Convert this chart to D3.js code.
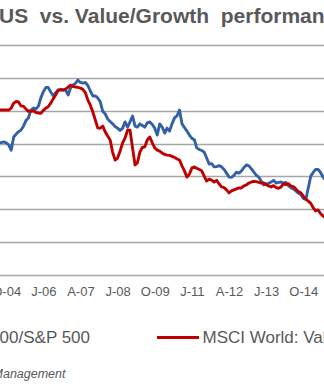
<!DOCTYPE html>
<html><head><meta charset="utf-8">
<script src="https://cdn.jsdelivr.net/npm/d3@7"></script>
<style>html,body{margin:0;padding:0;background:#fff;overflow:hidden}</style>
</head><body><svg id="c" width="324" height="384"></svg>
<script>
// ---- data (monthly, first point = Jul 2004) ----
const startMonth = new Date(2004, 6, 1);
const seriesNames = ["Stoxx 600/S&P 500", "MSCI World: Value/Growth"];
const regionRatio = [100.3,100.3,100.5,100.2,99.6,98.0,102.0,102.9,103.6,104.1,105.3,107.0,107.8,110.2,110.8,110.5,111.4,113.9,115.8,117.1,117.1,115.7,114.6,115.5,116.3,116.5,116.3,116.3,114.8,116.9,117.8,118.4,119.3,118.6,118.4,118.6,117.7,116.0,114.5,114.5,113.9,112.7,109.8,109.0,107.5,106.7,106.0,105.2,104.7,104.0,104.7,106.6,105.0,106.6,108.4,105.3,105.0,106.0,105.5,105.0,106.3,106.6,105.8,104.7,102.6,106.0,105.0,103.2,104.7,103.8,106.0,107.8,108.4,110.2,106.0,104.9,103.8,102.6,101.6,101.1,98.7,98.2,97.9,97.4,95.6,93.8,93.9,92.9,93.0,93.3,92.9,92.1,91.0,89.8,89.7,90.3,91.3,91.0,91.7,92.7,93.5,93.2,92.3,91.3,90.4,89.8,88.6,87.4,87.8,87.9,88.3,88.8,88.0,88.2,88.3,88.0,88.2,87.2,86.6,86.2,85.6,84.9,84.5,83.3,83.0,86.5,90.1,91.3,92.1,92.1,91.2,89.8,88.9];
const valueGrowth = [110.2,110.2,110.2,110.2,110.2,110.8,112.3,112.8,112.7,111.4,111.4,110.5,109.8,109.9,109.9,109.5,109.3,109.2,110.1,110.8,111.2,112.3,113.6,114.8,116.2,116.3,116.3,116.6,117.2,117.8,117.4,117.2,117.1,116.9,116.5,115.5,113.3,111.7,109.6,107.2,104.7,104.7,105.3,103.5,102.3,101.1,97.4,95.0,95.6,97.7,100.2,101.7,104.1,104.1,98.7,93.5,94.1,97.4,98.8,99.0,101.1,102.0,100.2,98.7,98.0,97.7,97.1,96.7,96.5,96.4,96.1,95.8,95.3,95.0,93.2,91.7,89.8,90.7,92.6,92.9,92.5,92.1,91.7,90.1,88.6,89.2,88.9,88.3,88.8,87.7,86.8,86.6,85.9,85.0,85.6,85.9,86.2,86.5,86.5,87.1,87.4,88.0,88.3,88.5,88.4,88.2,88.0,88.0,87.5,87.1,86.8,87.2,86.6,86.4,86.8,87.8,87.5,87.8,87.1,86.9,86.2,85.4,85.0,84.0,83.1,82.5,81.8,80.4,79.5,79.8,78.7,78.0,77.3];
const tickLabels = ["O-04","J-06","A-07","J-08","O-09","J-11","A-12","J-13","O-14"];
const yTicks = [60,70,80,90,100,110,120,130];

const months = regionRatio.map((_, i) => d3.timeMonth.offset(startMonth, i));
const tickMonths = tickLabels.map((_, j) => d3.timeMonth.offset(new Date(2004, 9, 1), 15 * j));

const svg = d3.select("#c");
svg.append("rect").attr("width", 324).attr("height", 384).attr("fill", "#fff");

const x = d3.scaleTime()
  .domain([new Date(2004, 9, 1), new Date(2014, 9, 1)])
  .range([6.2, 303.3]);
const y = d3.scaleLinear().domain([60, 130]).range([275, 45]);

// gridlines
svg.append("g").selectAll("line").data(yTicks).join("line")
  .attr("x1", -20).attr("x2", 344)
  .attr("y1", d => Math.round(y(d)) + 0.5).attr("y2", d => Math.round(y(d)) + 0.5)
  .attr("stroke", "#a6a6a6").attr("stroke-width", 1.3);

// x axis labels
const xAxis = d3.axisBottom(x).tickValues(tickMonths)
  .tickFormat((d, i) => tickLabels[i]).tickSize(0).tickPadding(12);
const gx = svg.append("g").attr("transform", "translate(0,275)").call(xAxis);
gx.select(".domain").remove();
gx.selectAll("text").attr("fill", "#595959")
  .style("font-family", "'Liberation Sans', Arial, sans-serif").style("font-size", "13px");

const line = arr => d3.line().x((d, i) => x(months[i])).y(d => y(d))(arr);

svg.append("path").attr("d", line(regionRatio)).attr("fill", "none")
  .attr("stroke", "#3461a6").attr("stroke-width", 2.9).attr("stroke-linejoin", "round");
svg.append("path").attr("d", line(valueGrowth)).attr("fill", "none")
  .attr("stroke", "#c00000").attr("stroke-width", 2.9).attr("stroke-linejoin", "round");

// title
svg.append("text").attr("x", -1).attr("y", 23)
  .style("white-space", "pre")
  .style("font-family", "'Liberation Sans', Arial, sans-serif")
  .style("font-size", "21px").style("font-weight", "bold").attr("fill", "#595959")
  .text("US  vs. Value/Growth  performance");

// legend
const lg = svg.append("g").style("font-family", "'Liberation Sans', Arial, sans-serif")
  .style("font-size", "17px").attr("fill", "#595959");
lg.append("line").attr("x1", -60).attr("x2", -20).attr("y1", 337).attr("y2", 337)
  .attr("stroke", "#3461a6").attr("stroke-width", 3);
lg.append("text").attr("x", 90).attr("y", 343).attr("text-anchor", "end").text(seriesNames[0]);
lg.append("line").attr("x1", 157).attr("x2", 199).attr("y1", 337.5).attr("y2", 337.5)
  .attr("stroke", "#c00000").attr("stroke-width", 3);
lg.append("text").attr("x", 202.5).attr("y", 343).text(seriesNames[1]);

// source
svg.append("text").attr("x", 65.5).attr("y", 378).attr("text-anchor", "end")
  .style("font-family", "'Liberation Sans', Arial, sans-serif")
  .style("font-size", "12.5px").style("font-style", "italic").attr("fill", "#595959")
  .text("Source: Asset Management");
</script></body></html>
